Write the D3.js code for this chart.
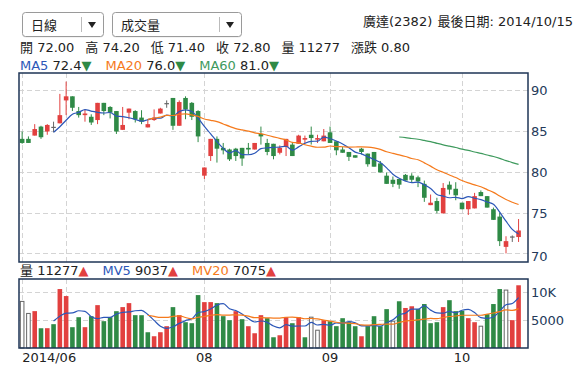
<!DOCTYPE html>
<html>
<head>
<meta charset="utf-8">
<script src="https://cdn.jsdelivr.net/npm/d3@7"></script>
<style>
  body { margin: 0; background: #fff; }
  text { font-family: "DejaVu Sans", "Noto Sans CJK TC", sans-serif; }
</style>
</head>
<body>
<svg id="chart"></svg>
<script>
// daily candles, 2014/06/20 .. 2014/10/15
const opens = [84.0,84.0,84.4,85.5,84.9,85.4,85.9,88.7,89.2,87.4,
  86.9,86.7,86.3,88.4,87.9,87.4,85.1,87.2,87.4,86.6,
  85.4,86.3,87.1,88.3,89.0,85.6,89.0,88.4,87.4,79.5,
  81.9,84.0,82.9,82.7,82.8,82.9,82.9,82.7,84.6,83.5,
  83.4,82.3,83.0,83.3,83.4,83.9,84.5,83.9,83.7,84.8,
  83.7,82.7,82.4,82.0,82.8,82.2,82.4,81.0,79.5,79.0,
  79.1,79.6,79.5,79.3,78.5,75.9,76.4,74.9,78.4,77.9,
  76.2,75.4,75.5,77.5,77.0,75.4,74.5,70.8,72.0,72.0];
const highs = [84.9,84.3,85.8,85.6,85.8,86.1,89.5,91.0,89.2,87.9,
  87.6,87.0,88.4,88.4,88.0,87.4,87.9,87.7,87.5,87.5,
  86.4,87.6,87.8,88.7,89.0,88.7,89.2,88.5,87.5,80.5,
  84.0,84.3,83.5,82.8,82.9,82.9,83.5,83.5,85.5,84.0,
  83.4,83.2,84.0,83.5,84.5,84.4,85.5,84.5,85.2,85.5,
  83.7,83.0,82.4,82.0,82.9,82.2,82.4,81.3,79.9,79.4,
  79.1,79.7,79.8,79.5,78.9,77.2,76.8,78.6,78.8,78.7,
  76.2,76.4,77.4,77.7,77.0,75.6,75.0,72.1,72.2,74.2];
const lows = [83.4,83.5,84.4,84.0,84.5,84.8,85.9,86.9,87.4,86.6,
  86.1,85.7,85.8,86.9,86.5,84.6,85.1,86.4,86.0,85.8,
  85.4,86.2,87.1,87.8,85.1,85.6,86.4,86.3,83.6,79.1,
  81.3,81.1,82.1,81.3,81.3,80.7,82.1,82.7,83.3,82.0,
  81.5,82.1,81.9,81.9,83.4,83.4,83.3,83.5,83.7,83.5,
  82.0,82.3,81.3,81.7,82.1,80.6,80.6,79.9,78.5,78.1,
  77.9,78.9,78.7,78.1,76.3,75.9,74.9,74.9,77.2,76.5,
  75.4,74.7,75.5,77.0,75.6,74.1,70.9,70.0,71.4,71.4];
const closes = [83.5,83.5,85.2,84.2,85.7,85.4,86.9,89.2,87.8,86.9,
  87.1,86.0,88.4,87.4,87.2,84.9,85.7,87.7,86.4,86.1,
  85.8,86.6,87.7,88.3,85.6,88.5,87.6,86.7,84.3,80.5,
  84.0,82.8,82.6,81.5,81.9,81.6,82.7,83.5,84.3,82.4,
  81.9,82.9,84.0,81.9,84.4,84.1,84.1,84.1,84.4,83.5,
  82.6,82.3,81.8,81.7,82.4,80.9,80.6,79.9,78.5,78.5,
  78.4,78.9,79.0,78.8,76.8,76.2,75.2,78.0,77.8,77.1,
  75.4,76.4,77.0,77.0,75.6,74.1,71.5,71.5,72.0,72.8];
const volumes = [8376,6214,6627,3552,3561,4283,10597,9336,3741,5538,
  3744,5719,7706,4823,5547,6618,7352,8069,5904,5896,
  2832,2114,2837,3921,7348,5907,4636,4461,9512,8247,
  8253,8066,5724,4998,6621,5183,3918,2652,5903,5364,
  1932,2291,5543,4457,5538,1929,5541,3196,5002,4817,
  3923,5358,4642,3915,2113,3924,5718,3917,6987,4823,
  8402,7196,7503,6998,7904,4458,4641,7347,8596,6624,
  6703,5362,4637,3921,6082,7903,10598,10412,5004,11277];
// volume colour: u = close up, d = close down, f = unchanged (10 bars per chunk)
const volDir = ["ffududuudd", "ududdduudd", "duuududddu", "uddduduuud",
  "duududffud", "dddduddddf", "duuddddudd", "duufdddfuu"].join("");

const tickIdx = [0, 7, 29, 49, 70];
const tickLabels = ["2014/06", "07", "08", "09", "10"];
const priceTicks = [70, 75, 80, 85, 90];
const volTicks = [5000, 10000];

const maPeriods = [5, 20, 60];
const maNames = ["MA5", "MA20", "MA60"];
const maValues = ["72.4", "76.0", "81.0"];
const mvPeriods = [5, 20];
const mvNames = ["MV5", "MV20"];
const mvValues = ["9037", "7075"];

const stockName = "廣達(2382)";
const lastDate = "2014/10/15";
const menus = ["日線", "成交量"];

class KChart {

  constructor(_config) {
    this.config = {
      parentElement: _config.parentElement,
      containerWidth: 585,
      containerHeight: 376,
      left: 19, right: 528,
      priceTop: 73, priceBottom: 262,
      volTop: 279, volBottom: 348
    };
    this.colors = {
      up: "#e2403f", down: "#2f8a46", flat: "#666",
      ma: ["#2c57b8", "#f57a1c", "#3e9a5d"],
      grid: "#d4d4d4", frame: "#1e3556", axis: "#243a5a", text: "#222"
    };
    this.initVis();
  }

  initVis() {
    let vis = this;
    const c = vis.config;
    vis.n = closes.length;

    vis.svg = d3.select(c.parentElement)
        .attr("width", c.containerWidth)
        .attr("height", c.containerHeight);

    // one extra empty slot on the right
    vis.xScale = d3.scaleLinear().domain([0, vis.n + 1]).range([c.left, c.right]);
    vis.xc = i => vis.xScale(i + 0.5);

    const hi = d3.max(highs), lo = d3.min(lows), pad = (hi - lo) * 0.05;
    vis.yScale = d3.scaleLinear().domain([lo - pad, hi + pad]).range([c.priceBottom, c.priceTop]);
    vis.vScale = d3.scaleLinear().domain([0, d3.max(volumes) * 1.1]).range([c.volBottom, c.volTop]);

    vis.drawHeader();
    vis.drawGrid();
    vis.drawCandles();
    vis.drawVolume();
    vis.drawFrames();
  }

  drawHeader() {
    let vis = this;
    let x0 = 22;
    menus.forEach((m, k) => {
      const w = k == 0 ? 81 : 129;
      const g = vis.svg.append("g").attr("transform", `translate(${x0},12)`);
      g.append("rect").attr("x", 0.5).attr("y", 1.5).attr("width", w).attr("height", 24)
          .attr("rx", 3).attr("fill", "#e8e8e8");
      g.append("rect").attr("x", 0.5).attr("y", 0.5).attr("width", w).attr("height", 24)
          .attr("rx", 3).attr("fill", "#fff").attr("stroke", "#9a9a9a");
      g.append("line").attr("x1", w - 21.5).attr("x2", w - 21.5).attr("y1", 5).attr("y2", 20)
          .attr("stroke", "#bbb");
      g.append("path").attr("d", `M${w - 15},10 h8 l-4,6 z`).attr("fill", "#222");
      g.append("text").attr("x", 9).attr("y", 17.5).attr("font-size", 13)
          .attr("fill", vis.colors.text).text(m);
      x0 += w + 9;
    });

    vis.svg.append("text").attr("x", 363).attr("y", 26)
        .attr("font-size", 13).attr("fill", vis.colors.text).text(stockName);
    vis.svg.append("text").attr("x", 573).attr("y", 26).attr("text-anchor", "end")
        .attr("font-size", 13).attr("fill", vis.colors.text).text(`最後日期: ${lastDate}`);

    // last bar summary
    const last = vis.n - 1;
    const info = [
      ["開", opens[last].toFixed(2)], ["高", highs[last].toFixed(2)],
      ["低", lows[last].toFixed(2)], ["收", closes[last].toFixed(2)],
      ["量", String(volumes[last])], ["漲跌", (closes[last] - closes[last - 1]).toFixed(2)]
    ];
    let x = 20;
    info.forEach(d => {
      const t = vis.svg.append("text").attr("x", x).attr("y", 52).attr("font-size", 13)
          .attr("fill", vis.colors.text).text(`${d[0]} ${d[1]}`);
      x += t.node().getComputedTextLength() + 11;
    });

    vis.legend(maNames, maValues, vis.colors.ma, 20, 70, "▼", vis.colors.down);
    vis.legend(["量"].concat(mvNames), [String(volumes[last])].concat(mvValues),
        [vis.colors.text].concat(vis.colors.ma), 20, 275, "▲", vis.colors.up);
  }

  legend(names, values, colors, x, y, arrow, arrowColor) {
    let vis = this;
    names.forEach((nm, k) => {
      const t = vis.svg.append("text").attr("x", x).attr("y", y).attr("font-size", 13);
      t.append("tspan").attr("fill", colors[k]).text(nm + " ");
      t.append("tspan").attr("fill", vis.colors.text).text(values[k]);
      t.append("tspan").attr("fill", arrowColor).text(arrow);
      x += t.node().getComputedTextLength() + 14;
    });
  }

  drawGrid() {
    let vis = this;
    const c = vis.config;
    const g = vis.svg.append("g").attr("stroke", vis.colors.grid).attr("stroke-dasharray", "5,3");

    priceTicks.forEach(v => {
      const y = Math.round(vis.yScale(v)) + 0.5;
      g.append("line").attr("x1", c.left).attr("x2", c.right).attr("y1", y).attr("y2", y);
    });
    volTicks.forEach(v => {
      const y = Math.round(vis.vScale(v)) + 0.5;
      g.append("line").attr("x1", c.left).attr("x2", c.right).attr("y1", y).attr("y2", y);
    });
    tickIdx.forEach(i => {
      const x = Math.round(vis.xc(i)) + 0.5;
      g.append("line").attr("x1", x).attr("x2", x).attr("y1", c.priceTop).attr("y2", c.priceBottom);
      g.append("line").attr("x1", x).attr("x2", x).attr("y1", c.volTop).attr("y2", c.volBottom);
    });

    // right axis labels
    priceTicks.forEach((v, k) => {
      vis.svg.append("text").attr("x", 531).attr("y", vis.yScale(v) + 5 + (k == 0 ? 3 : 0))
          .attr("font-size", 13).attr("fill", vis.colors.axis).text(v);
    });
    volTicks.forEach(v => {
      vis.svg.append("text").attr("x", 531).attr("y", vis.vScale(v) + 5)
          .attr("font-size", 13).attr("fill", vis.colors.axis)
          .text(v >= 10000 ? (v / 1000) + "K" : v);
    });

    // month labels, skipped when they would overlap the previous one
    let lastRight = -1;
    tickIdx.forEach((i, k) => {
      const x = vis.xc(i);
      const t = vis.svg.append("text").attr("y", 362).attr("font-size", 13)
          .attr("fill", vis.colors.text).text(tickLabels[k]);
      const w = t.node().getComputedTextLength();
      let x0 = k == 0 ? x : x - w / 2;
      if (x0 < lastRight + 2) { t.remove(); return; }
      t.attr("x", x0);
      lastRight = x0 + w;
    });
  }

  movingAvg(arr, p) {
    const out = [];
    for (let i = p; i < arr.length; i++) {
      out.push({ i: i, v: d3.mean(arr.slice(i - p + 1, i + 1)) });
    }
    return out;
  }

  drawCandles() {
    let vis = this;
    const bw = 4.6;
    const g = vis.svg.append("g");
    d3.range(vis.n).forEach(i => {
      const o = opens[i], cl = closes[i];
      const col = cl > o ? vis.colors.up : (cl < o ? vis.colors.down : vis.colors.flat);
      const x = vis.xc(i);
      g.append("line").attr("x1", x).attr("x2", x)
          .attr("y1", vis.yScale(highs[i])).attr("y2", vis.yScale(lows[i]))
          .attr("stroke", col).attr("stroke-width", 1);
      if (cl == o) {
        g.append("line").attr("x1", x - bw / 2).attr("x2", x + bw / 2)
            .attr("y1", vis.yScale(cl)).attr("y2", vis.yScale(cl))
            .attr("stroke", col).attr("stroke-width", 1.2);
      } else {
        const y1 = vis.yScale(Math.max(o, cl)), y2 = vis.yScale(Math.min(o, cl));
        g.append("rect").attr("x", x - bw / 2).attr("y", y1)
            .attr("width", bw).attr("height", Math.max(1, y2 - y1)).attr("fill", col);
      }
    });

    const line = d3.line().x(d => vis.xc(d.i)).y(d => vis.yScale(d.v)).curve(d3.curveMonotoneX);
    maPeriods.forEach((p, k) => {
      vis.svg.append("path").datum(vis.movingAvg(closes, p))
          .attr("d", line).attr("fill", "none")
          .attr("stroke", vis.colors.ma[k]).attr("stroke-width", 1.2);
    });
  }

  drawVolume() {
    let vis = this;
    const bw = 4.6;
    const g = vis.svg.append("g");
    volumes.forEach((v, i) => {
      const dir = volDir[i];
      const y = vis.vScale(v);
      const r = g.append("rect").attr("x", vis.xc(i) - bw / 2).attr("y", y)
          .attr("width", bw).attr("height", vis.config.volBottom - y);
      if (dir == "f") {
        r.attr("fill", "#fff").attr("stroke", vis.colors.flat).attr("stroke-width", 1)
            .attr("x", vis.xc(i) - bw / 2 + 0.5).attr("width", bw - 1);
      } else {
        r.attr("fill", dir == "u" ? vis.colors.up : vis.colors.down);
      }
    });

    const line = d3.line().x(d => vis.xc(d.i)).y(d => vis.vScale(d.v)).curve(d3.curveMonotoneX);
    mvPeriods.forEach((p, k) => {
      vis.svg.append("path").datum(vis.movingAvg(volumes, p))
          .attr("d", line).attr("fill", "none")
          .attr("stroke", vis.colors.ma[k]).attr("stroke-width", 1.2);
    });
  }

  drawFrames() {
    let vis = this;
    const c = vis.config;
    [[c.priceTop, c.priceBottom], [c.volTop, c.volBottom]].forEach(d => {
      vis.svg.append("rect").attr("x", c.left).attr("y", d[0])
          .attr("width", c.right - c.left).attr("height", d[1] - d[0])
          .attr("fill", "none").attr("stroke", vis.colors.frame).attr("stroke-width", 1.5);
    });
  }
}

new KChart({ parentElement: "#chart" });
</script>
</body>
</html>
